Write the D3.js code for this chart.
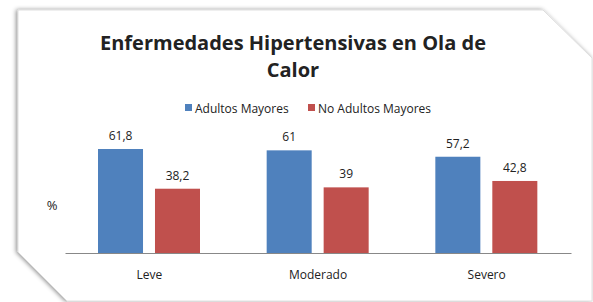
<!DOCTYPE html>
<html>
<head>
<meta charset="utf-8">
<script src="https://cdn.jsdelivr.net/npm/d3@7"></script>
<style>
  body { margin: 0; background: #fff; }
  text { font-family: "Open Sans", "Noto Sans", sans-serif; fill: #222; }
</style>
</head>
<body>
<script>
const width = 593;
const height = 302;

const categorias = ["Leve", "Moderado", "Severo"];
const series = ["Adultos Mayores", "No Adultos Mayores"];
const adultosMayores = [61.8, 61, 57.2];
const noAdultosMayores = [38.2, 39, 42.8];
const colores = ["#4F81BD", "#C0504D"];
const titulo = ["Enfermedades Hipertensivas en Ola de", "Calor"];

const datos = categorias.map((c, i) => ({
  categoria: c,
  valores: [adultosMayores[i], noAdultosMayores[i]],
}));

const svg = d3
  .select("body")
  .append("svg")
  .attr("width", width)
  .attr("height", height);

// sombra de la tarjeta
const defs = svg.append("defs");
const filtro = defs
  .append("filter")
  .attr("id", "sombra")
  .attr("x", "-10%")
  .attr("y", "-10%")
  .attr("width", "120%")
  .attr("height", "120%");
filtro
  .append("feDropShadow")
  .attr("dx", -1.5)
  .attr("dy", 0)
  .attr("stdDeviation", 2)
  .attr("flood-color", "#000")
  .attr("flood-opacity", 0.45);

svg
  .append("polygon")
  .attr("points", "18,10 543,10 592,58 592,301 67,301 18,252")
  .attr("fill", "#fff")
  .attr("stroke", "#d8d8d8")
  .attr("stroke-width", 0.8)
  .attr("filter", "url(#sombra)");

// titulo
svg
  .append("g")
  .selectAll("text")
  .data(titulo)
  .join("text")
  .attr("x", 293)
  .attr("y", (d, i) => 50 + i * 27)
  .attr("text-anchor", "middle")
  .attr("font-size", 20)
  .attr("font-weight", "bold")
  .text((d) => d);

// escalas
const escalaX = d3.scaleBand().domain(categorias).range([65, 571]).padding(0);

const escalaSerie = d3
  .scaleBand()
  .domain(series)
  .range([33, 135])
  .paddingInner(0.21)
  .paddingOuter(0);

const escalaY = d3.scaleLinear().domain([0, 70]).range([253, 135.2]);

// leyenda
const leyendaX = [185, 308];
const leyenda = svg
  .append("g")
  .selectAll("g")
  .data(series)
  .join("g")
  .attr("transform", (d, i) => `translate(${leyendaX[i]}, 104)`);
leyenda
  .append("rect")
  .attr("width", 7)
  .attr("height", 7)
  .attr("fill", (d, i) => colores[i]);
leyenda
  .append("text")
  .attr("x", 10)
  .attr("y", 8.5)
  .attr("font-size", 12)
  .text((d) => d);

// barras
const grupos = svg
  .append("g")
  .selectAll("g")
  .data(datos)
  .join("g")
  .attr("transform", (d) => `translate(${escalaX(d.categoria)}, 0)`);

grupos
  .selectAll("rect")
  .data((d) => d.valores.map((v, i) => ({ serie: series[i], valor: v, i })))
  .join("rect")
  .attr("x", (d) => escalaSerie(d.serie))
  .attr("y", (d) => escalaY(d.valor))
  .attr("width", escalaSerie.bandwidth())
  .attr("height", (d) => escalaY(0) - escalaY(d.valor))
  .attr("fill", (d) => colores[d.i]);

grupos
  .selectAll("text")
  .data((d) => d.valores.map((v, i) => ({ serie: series[i], valor: v })))
  .join("text")
  .attr("x", (d) => escalaSerie(d.serie) + escalaSerie.bandwidth() / 2)
  .attr("y", (d) => escalaY(d.valor) - 9)
  .attr("text-anchor", "middle")
  .attr("font-size", 12)
  .text((d) => String(d.valor).replace(".", ","));

// eje x
const ejeX = d3.axisBottom(escalaX).tickSize(0).tickPadding(17);
const contenedorEjeX = svg
  .append("g")
  .attr("transform", `translate(0, ${escalaY(0)})`)
  .call(ejeX);
contenedorEjeX.select(".domain").attr("stroke", "#888");
contenedorEjeX
  .selectAll("text")
  .attr("font-size", 12)
  .attr("font-family", "Open Sans, Noto Sans, sans-serif")
  .attr("fill", "#222");

// titulo eje y
svg
  .append("text")
  .attr("x", 52)
  .attr("y", 210)
  .attr("text-anchor", "middle")
  .attr("font-size", 13)
  .text("%");
</script>
</body>
</html>
